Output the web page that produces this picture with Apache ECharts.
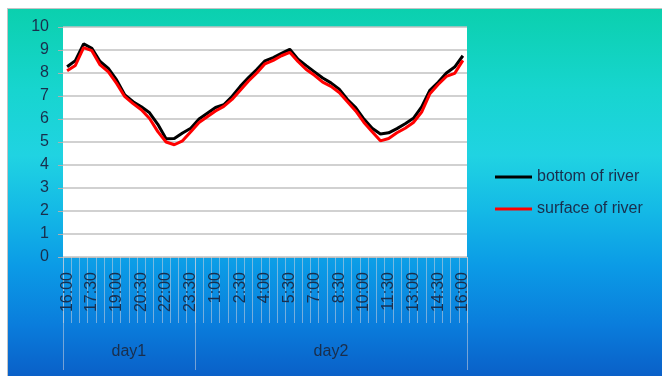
<!DOCTYPE html>
<html>
<head>
<meta charset="utf-8">
<script src="https://cdn.jsdelivr.net/npm/echarts@6/dist/echarts.min.js"></script>
<style>
  html, body { margin: 0; padding: 0; background: #ffffff; }
  #wrap { position: relative; width: 662px; height: 376px; overflow: hidden; }
  #panel {
    position: absolute; left: 7px; top: 8px; right: 0; bottom: 0;
    border-left: 1px solid #c4c4c4; border-top: 1px solid #c4c4c4;
    background: linear-gradient(to bottom, #0bd0ae 0%, #17d5cf 22%, #20d3e2 40%, #14b9e6 55%, #0b9be6 70%, #0a7ddc 86%, #0a60c8 100%);
  }
  #chart { position: absolute; left: 0; top: 0; width: 662px; height: 376px; }
</style>
</head>
<body>
<div id="wrap">
  <div id="panel"></div>
  <div id="chart"></div>
</div>
<script>
// Half-hourly readings over two days
const times = [
  '16:00','16:30','17:00','17:30','18:00','18:30','19:00','19:30',
  '20:00','20:30','21:00','21:30','22:00','22:30','23:00','23:30',
  '0:00','0:30','1:00','1:30','2:00','2:30','3:00','3:30',
  '4:00','4:30','5:00','5:30','6:00','6:30','7:00','7:30',
  '8:00','8:30','9:00','9:30','10:00','10:30','11:00','11:30',
  '12:00','12:30','13:00','13:30','14:00','14:30','15:00','15:30','16:00'
];

const dayNames = ['day1', 'day2'];
const dayLengths = [16, 33];

const bottomOfRiver = [
  8.27, 8.54, 9.27, 9.07, 8.50, 8.20, 7.70, 7.05, 6.75, 6.53,
  6.27, 5.77, 5.14, 5.15, 5.39, 5.60, 6.00, 6.25, 6.50, 6.62,
  6.98, 7.42, 7.80, 8.15, 8.53, 8.67, 8.85, 9.03, 8.60, 8.32,
  8.05, 7.78, 7.57, 7.30, 6.85, 6.50, 6.00, 5.60, 5.35, 5.40,
  5.58, 5.79, 6.03, 6.53, 7.25, 7.60, 8.00, 8.26, 8.75
];

const surfaceOfRiver = [
  8.10, 8.33, 9.10, 8.97, 8.35, 8.05, 7.55, 6.97, 6.67, 6.40,
  6.02, 5.45, 5.00, 4.88, 5.05, 5.45, 5.85, 6.10, 6.35, 6.55,
  6.85, 7.25, 7.65, 8.00, 8.40, 8.55, 8.75, 8.90, 8.50, 8.15,
  7.90, 7.60, 7.42, 7.15, 6.75, 6.35, 5.85, 5.45, 5.05, 5.15,
  5.40, 5.60, 5.85, 6.30, 7.10, 7.50, 7.85, 7.98, 8.55
];

const seriesNames = ['bottom of river', 'surface of river'];
const seriesColors = ['#000000', '#ff0000'];

const yMin = 0, yMax = 10, yStep = 1;
const timeLabelEvery = 3;

// Group axis: first slot of every day gets a boundary tick,
// the day name sits in the middle of its span
const dayStarts = [];
let acc = 0;
dayLengths.forEach(n => { dayStarts.push(acc); acc += n; });
const dayLabelSlot = {};
dayStarts.forEach((st, k) => {
  dayLabelSlot[st + Math.floor((dayLengths[k] - 1) / 2)] = k;
});

const textColor = '#1a2e4c';
const fontFamily = '"Liberation Sans", Arial, sans-serif';
const tickColor = 'rgba(205,210,220,0.55)';

const chart = echarts.init(document.getElementById('chart'), null, { renderer: 'canvas' });

chart.setOption({
  backgroundColor: 'transparent',
  animation: false,
  textStyle: { fontFamily: fontFamily },
  grid: {
    left: 63, right: 195, top: 27, bottom: 119,
    show: true, backgroundColor: '#ffffff', borderWidth: 0
  },
  legend: {
    orient: 'vertical',
    left: 495, top: 167,
    padding: 0,
    icon: 'rect',
    itemWidth: 37, itemHeight: 3,
    itemGap: 12,
    textStyle: { color: textColor, fontSize: 16, lineHeight: 20, fontFamily: fontFamily },
    data: seriesNames
  },
  xAxis: [
    {
      type: 'category',
      data: times,
      boundaryGap: true,
      axisLine: { show: true, lineStyle: { color: '#bdbdbd', width: 1 } },
      axisTick: { show: true, interval: 0, length: 66, lineStyle: { color: tickColor, width: 1 } },
      axisLabel: {
        interval: timeLabelEvery - 1,
        rotate: 90,
        margin: 15,
        color: textColor,
        fontSize: 16,
        fontFamily: fontFamily
      },
      splitLine: { show: false }
    },
    {
      type: 'category',
      data: times,
      position: 'bottom',
      boundaryGap: true,
      axisLine: { show: false },
      axisTick: {
        show: true,
        length: 113,
        interval: (i) => dayStarts.indexOf(i) !== -1,
        lineStyle: { color: tickColor, width: 1 }
      },
      axisLabel: {
        margin: 87,
        interval: (i) => dayLabelSlot[i] !== undefined,
        formatter: (v, i) => {
          const k = dayLabelSlot[i];
          if (k === undefined) return '';
          return dayLengths[k] % 2 === 0 ? '{half|' + dayNames[k] + '}' : '{full|' + dayNames[k] + '}';
        },
        rich: {
          half: { color: textColor, fontSize: 16, fontFamily: fontFamily, padding: [0, 0, 0, 8] },
          full: { color: textColor, fontSize: 16, fontFamily: fontFamily }
        }
      },
      splitLine: { show: false }
    }
  ],
  yAxis: {
    type: 'value',
    min: yMin, max: yMax, interval: yStep,
    axisLine: { show: false },
    axisTick: { show: true, length: 5, lineStyle: { color: '#b0b0b0' } },
    axisLabel: { color: textColor, fontSize: 16, margin: 14, fontFamily: fontFamily },
    splitLine: { show: true, lineStyle: { color: '#c2c2c2', width: 1.5 } }
  },
  series: [
    {
      name: seriesNames[0],
      type: 'line',
      data: bottomOfRiver,
      symbol: 'none',
      color: seriesColors[0],
      lineStyle: { color: seriesColors[0], width: 3 },
      z: 2
    },
    {
      name: seriesNames[1],
      type: 'line',
      data: surfaceOfRiver,
      symbol: 'none',
      color: seriesColors[1],
      lineStyle: { color: seriesColors[1], width: 3 },
      z: 3
    }
  ]
});
</script>
</body>
</html>
